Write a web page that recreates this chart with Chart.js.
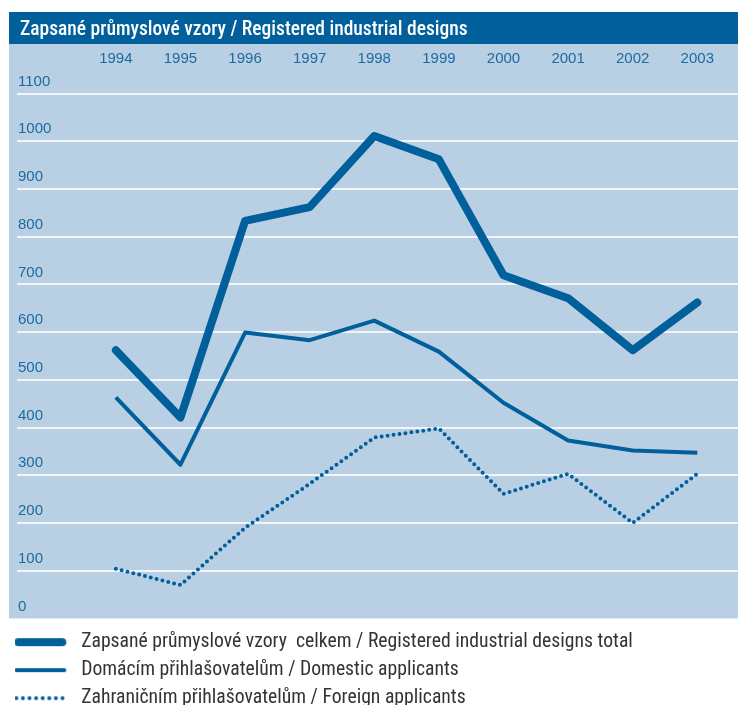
<!DOCTYPE html>
<html>
<head>
<meta charset="utf-8">
<script src="https://cdn.jsdelivr.net/npm/chart.js@4/dist/chart.umd.min.js"></script>
<style>
  html, body { margin: 0; padding: 0; background: #fff; }
  #wrap { width: 738px; height: 705px; }
</style>
</head>
<body>
<div id="wrap"><canvas id="chart" width="738" height="705"></canvas></div>
<script>
// data
let years = [1994, 1995, 1996, 1997, 1998, 1999, 2000, 2001, 2002, 2003]
let totalDesigns = [562, 421, 833, 862, 1011, 962, 719, 671, 562, 662]
let domesticApplicants = [463, 322, 599, 583, 624, 559, 452, 373, 352, 347]
let foreignApplicants = [104, 70, 190, 282, 379, 398, 261, 303, 200, 303]
let yTicks = [0, 100, 200, 300, 400, 500, 600, 700, 800, 900, 1000, 1100]

let chartTitle = 'Zapsané průmyslové vzory / Registered industrial designs'
let seriesNames = [
    'Zapsané průmyslové vzory  celkem / Registered industrial designs total',
    'Domácím přihlašovatelům / Domestic applicants',
    'Zahraničním přihlašovatelům / Foreign applicants'
]

const dark = '#01609b'
const panel = '#b9d0e4'
const tickColor = '#1c6aa1'
const narrow = '"Roboto Condensed", "DejaVu Sans Condensed", sans-serif'
const tickFont = { family: '"Liberation Sans", Arial, sans-serif', size: 15 }

function points(vals){
    return vals.map((v, i) => ({x: years[i], y: v}))
}

// little legend swatches, line from left edge, blank on the right
function swatch(width, dotted){
    let c = document.createElement('canvas')
    c.width = 66
    c.height = 12
    let ctx = c.getContext('2d')
    ctx.strokeStyle = dark
    ctx.lineCap = 'round'
    ctx.lineWidth = width
    ctx.beginPath()
    if(dotted){
        ctx.setLineDash([0, 6.6])
        ctx.moveTo(2, 6)
        ctx.lineTo(50, 6)
    } else {
        ctx.moveTo(width/2, 6)
        ctx.lineTo(52 - width/2, 6)
    }
    ctx.stroke()
    return c
}
let swatches = [swatch(8, false), swatch(4, false), swatch(4, true)]

const panelPlugin = {
    id: 'panel',
    beforeDraw(chart){
        let ctx = chart.ctx
        let y0 = chart.scales.y.getPixelForValue(0)
        ctx.save()
        ctx.fillStyle = panel
        ctx.fillRect(9, 12, 738 - 9, y0 - 12)
        ctx.fillStyle = dark
        ctx.fillRect(9, 12, 738 - 9, 32)
        ctx.fillStyle = '#fff'
        ctx.font = '500 19.5px ' + narrow
        ctx.textBaseline = 'middle'
        ctx.fillText(chartTitle, 20, 30)
        ctx.restore()
    }
}

new Chart(document.getElementById('chart').getContext('2d'), {
    type: 'line',
    data: {
        datasets: [{
            label: seriesNames[0],
            data: points(totalDesigns),
            borderColor: dark,
            borderWidth: 8,
            borderCapStyle: 'round',
            borderJoinStyle: 'round',
            pointRadius: 0,
            fill: false
        }, {
            label: seriesNames[1],
            data: points(domesticApplicants),
            borderColor: dark,
            borderWidth: 4,
            borderJoinStyle: 'round',
            pointRadius: 0,
            fill: false
        }, {
            label: seriesNames[2],
            data: points(foreignApplicants),
            borderColor: dark,
            borderWidth: 4,
            borderDash: [0, 6],
            borderCapStyle: 'round',
            pointRadius: 0,
            fill: false
        }]
    },
    options: {
        responsive: false,
        animation: false,
        layout: { padding: { top: 49, left: 15, right: 0, bottom: -13 } },
        scales: {
            x: {
                type: 'linear',
                position: 'top',
                min: 1992.47,
                max: 2003.63,
                afterBuildTicks: axis => { axis.ticks = years.map(v => ({value: v})) },
                afterFit: axis => { axis.height = 44.5 },
                grid: { display: false },
                border: { display: false },
                ticks: {
                    color: tickColor,
                    font: tickFont,
                    padding: 18,
                    maxRotation: 0,
                    autoSkip: false,
                    callback: v => String(v)
                }
            },
            y: {
                min: -11.75,
                max: 1100,
                afterBuildTicks: axis => { axis.ticks = yTicks.map(v => ({value: v})) },
                grid: {
                    color: ctx => ctx.tick && ctx.tick.value === 0 ? 'rgba(0,0,0,0)' : '#f2f6fa',
                    lineWidth: 2,
                    drawTicks: false
                },
                border: { display: false },
                ticks: {
                    mirror: true,
                    padding: 1,
                    labelOffset: -12,
                    color: tickColor,
                    font: tickFont,
                    callback: v => String(v)
                }
            }
        },
        plugins: {
            title: { display: false },
            tooltip: { enabled: false },
            legend: {
                position: 'bottom',
                align: 'start',
                labels: {
                    usePointStyle: true,
                    pointStyleWidth: 48,
                    padding: 8.3,
                    color: '#333',
                    font: { family: narrow, size: 19.7 },
                    generateLabels: chart => chart.data.datasets.map((ds, i) => ({
                        text: ds.label,
                        pointStyle: swatches[i],
                        fillStyle: dark,
                        strokeStyle: dark,
                        lineWidth: 0,
                        fontColor: '#333',
                        datasetIndex: i
                    }))
                }
            }
        }
    },
    plugins: [panelPlugin]
});
</script>
</body>
</html>
